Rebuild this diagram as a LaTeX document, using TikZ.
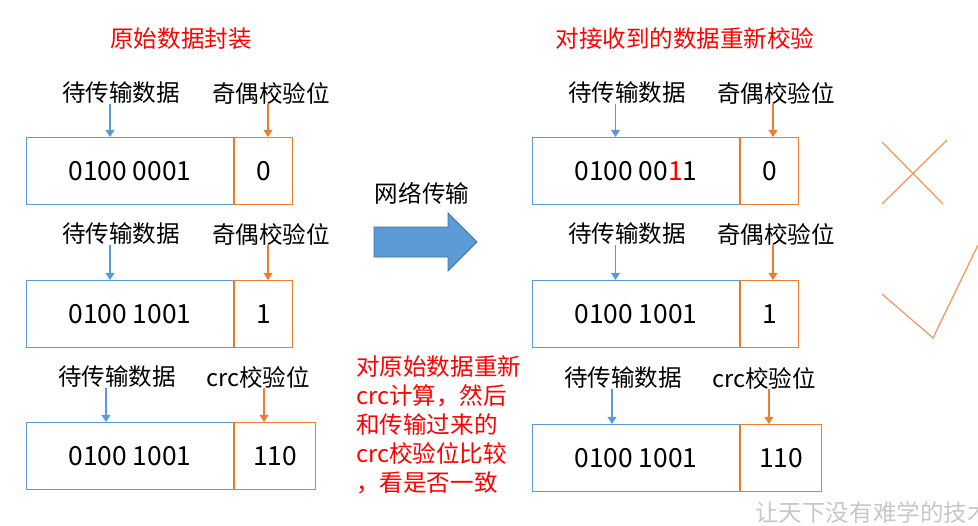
\documentclass[tikz,border=0pt]{standalone}
\usepackage{fontspec}
\setmainfont{Noto Sans CJK SC}
\usepackage{xcolor}
\usetikzlibrary{arrows.meta, positioning}
\definecolor{boxblue}{HTML}{5B9BD5}
\definecolor{boxorange}{HTML}{ED7D31}
\definecolor{arrowedge}{HTML}{41719C}

\begin{document}
\begin{tikzpicture}[x=0.02cm, y=-0.02cm,
    lbl/.style={font=\fontsize{13.4}{16}\selectfont, inner sep=0pt},
    titletxt/.style={lbl, text=red},
    databox/.style={draw=boxblue, line width=0.6pt, minimum width=4.14cm, minimum height=1.34cm,
        inner sep=0pt, anchor=north west, font=\fontsize{15}{18}\selectfont},
    paritybox/.style={databox, draw=boxorange, minimum width=1.16cm},
    crcbox/.style={paritybox, minimum width=1.62cm},
    bluearrow/.style={draw=boxblue, line width=0.6pt, -{Triangle[width=5pt,length=4pt]}},
    orangearrow/.style={bluearrow, draw=boxorange, fill=boxorange},
    checkline/.style={draw=boxorange!80, line width=0.7pt}
]
    \useasboundingbox (0, 0) rectangle (978, 525);

    % 标题
    \node[titletxt] (t1) at (181, 39) {原始数据封装};
    \node[titletxt] (t2) at (685, 39) {对接收到的数据重新校验};

    % 左侧：奇偶校验（第一行）
    \node[databox] (d1) at (26, 137) {0100 0001};
    \node[paritybox, anchor=north west] (p1) at (d1.north east) {0};
    \node[lbl] (l1) at (121, 93) {待传输数据};
    \node[lbl] (q1) at (271, 93) {奇偶校验位};
    \draw[bluearrow, fill=boxblue] ([xshift=-0.22cm]l1.south) -- ([xshift=-0.22cm]l1.south |- d1.north);
    \draw[orangearrow] ([xshift=-0.06cm]q1.south) -- ([xshift=-0.06cm]q1.south |- p1.north);

    % 左侧：奇偶校验（第二行）
    \node[databox] (d2) at (26, 280) {0100 1001};
    \node[paritybox, anchor=north west] (p2) at (d2.north east) {1};
    \node[lbl] (l2) at (121, 234) {待传输数据};
    \node[lbl] (q2) at (271, 234) {奇偶校验位};
    \draw[bluearrow, fill=boxblue] ([xshift=-0.22cm]l2.south) -- ([xshift=-0.22cm]l2.south |- d2.north);
    \draw[orangearrow] ([xshift=-0.06cm]q2.south) -- ([xshift=-0.06cm]q2.south |- p2.north);

    % 左侧：crc 校验
    \node[databox] (d3) at (26, 422) {0100 1001};
    \node[crcbox, anchor=north west] (c3) at (d3.north east) {110};
    \node[lbl] (l3) at (117, 377) {待传输数据};
    \node[lbl] (q3) at (258, 377) {crc校验位};
    \draw[bluearrow, fill=boxblue] ([xshift=-0.22cm]l3.south) -- ([xshift=-0.22cm]l3.south |- d3.north);
    \draw[orangearrow] ([xshift=0.12cm]q3.south) -- ([xshift=0.12cm]q3.south |- c3.north);

    % 网络传输
    \node[lbl] (net) at (422, 193) {网络传输};
    \fill[boxblue, draw=arrowedge, line width=0.5pt]
        (374, 227) -- (448, 227) -- (448, 213) -- (477, 242) -- (448, 271) -- (448, 257) -- (374, 257) -- cycle;

    % 说明
    \node[lbl, text=red, anchor=north west, align=left, font=\fontsize{13.4}{16.5}\selectfont] (note) at (356, 355)
        {对原始数据重新\\crc计算，然后\\和传输过来的\\crc校验位比较\\，看是否一致};

    % 右侧：接收（第一行）
    \node[databox] (r1) at (532, 137) {0100 00{\color{red}1}1};
    \node[paritybox, anchor=north west] (rp1) at (r1.north east) {0};
    \node[lbl] (rl1) at (627, 93) {待传输数据};
    \node[lbl] (rq1) at (776, 93) {奇偶校验位};
    \draw[bluearrow, fill=boxblue] ([xshift=-0.23cm]rl1.south) -- ([xshift=-0.23cm]rl1.south |- r1.north);
    \draw[orangearrow] ([xshift=-0.06cm]rq1.south) -- ([xshift=-0.06cm]rq1.south |- rp1.north);

    % 右侧：接收（第二行）
    \node[databox] (r2) at (532, 280) {0100 1001};
    \node[paritybox, anchor=north west] (rp2) at (r2.north east) {1};
    \node[lbl] (rl2) at (627, 234) {待传输数据};
    \node[lbl] (rq2) at (776, 234) {奇偶校验位};
    \draw[bluearrow, fill=boxblue] ([xshift=-0.23cm]rl2.south) -- ([xshift=-0.23cm]rl2.south |- r2.north);
    \draw[orangearrow] ([xshift=-0.06cm]rq2.south) -- ([xshift=-0.06cm]rq2.south |- rp2.north);

    % 右侧：crc
    \node[databox] (r3) at (532, 424) {0100 1001};
    \node[crcbox, anchor=north west] (rc3) at (r3.north east) {110};
    \node[lbl] (rl3) at (623, 378) {待传输数据};
    \node[lbl] (rq3) at (764, 378) {crc校验位};
    \draw[bluearrow, fill=boxblue] ([xshift=-0.22cm]rl3.south) -- ([xshift=-0.22cm]rl3.south |- r3.north);
    \draw[orangearrow] ([xshift=0.1cm]rq3.south) -- ([xshift=0.1cm]rq3.south |- rc3.north);

    % 叉与勾
    \draw[checkline] (882, 142) -- (943, 204);
    \draw[checkline] (947, 140) -- (882, 204);
    \draw[checkline] (882, 294) -- (933, 338) -- (978, 245);

    % 水印
    \node[lbl, text=black!22, anchor=west] (wm) at (755, 512) {让天下没有难学的技术};
\end{tikzpicture}
\end{document}
